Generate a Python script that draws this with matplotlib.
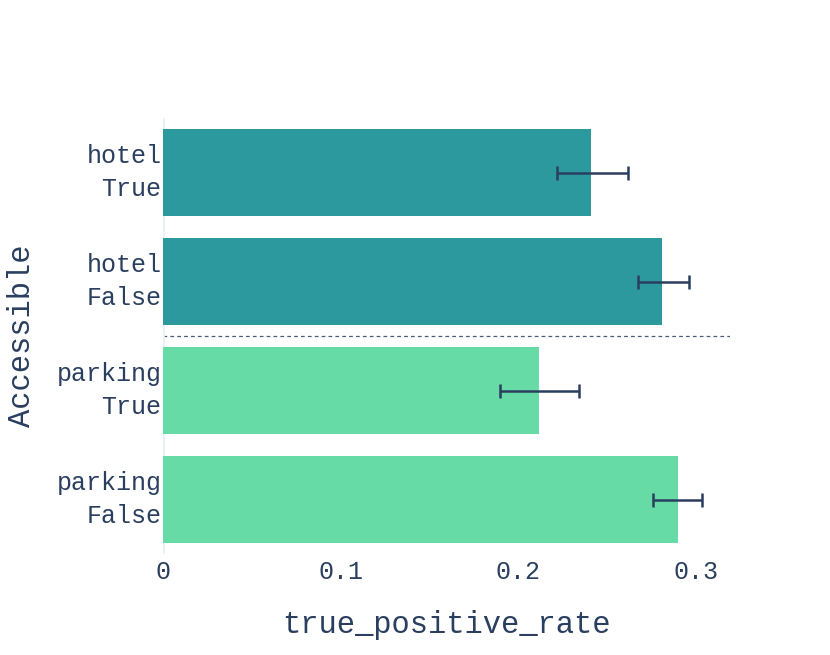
import matplotlib.pyplot as plt

# data
labels = ['hotel\nTrue', 'hotel\nFalse', 'parking\nTrue', 'parking\nFalse']
tpr = [0.241, 0.281, 0.2115, 0.2895]
err_low = [0.2215, 0.2673, 0.1897, 0.2757]
err_high = [0.2617, 0.296, 0.2341, 0.3033]
colors = ['#2C999F', '#2C999F', '#66DBA5', '#66DBA5']

text_color = '#2A3F5F'
plt.rcParams['font.family'] = ['Liberation Mono', 'DejaVu Sans Mono']

fig = plt.figure(figsize=(8.3, 6.55), dpi=100)
ax = fig.add_axes([0.1964, 0.1542, 0.6831, 0.6656])

pos = list(range(len(labels)))
ax.barh(pos, tpr, height=0.8, color=colors, zorder=2)

xerr = [[v - lo for v, lo in zip(tpr, err_low)],
        [hi - v for v, hi in zip(tpr, err_high)]]
ax.errorbar(tpr, pos, xerr=xerr, fmt='none', ecolor=text_color,
            elinewidth=1.8, capsize=5, capthick=1.8, zorder=3)

ax.axhline(1.5, color=text_color, linestyle=(0, (3, 2.5)), linewidth=0.9,
           alpha=0.85, zorder=1)
ax.axvline(0, color='#EBF0F8', linewidth=2, zorder=1)

ax.set_xlim(0, 0.319)
ax.set_ylim(3.5, -0.5)
ax.set_yticks(pos)
ax.set_yticklabels(labels, ha='right', va='center', linespacing=1.45)
ax.set_xticks([0, 0.1, 0.2, 0.3])
ax.set_xticklabels(['0', '0.1', '0.2', '0.3'])

ax.tick_params(axis='both', length=0, labelsize=18, colors=text_color)
ax.tick_params(axis='y', pad=1)
ax.tick_params(axis='x', pad=4)

for s in ax.spines.values():
    s.set_visible(False)

ax.set_xlabel('true_positive_rate', fontsize=22, color=text_color, labelpad=19)
ax.set_ylabel('Accessible', fontsize=22, color=text_color, labelpad=14)

fig.savefig('out.png', dpi=100)
